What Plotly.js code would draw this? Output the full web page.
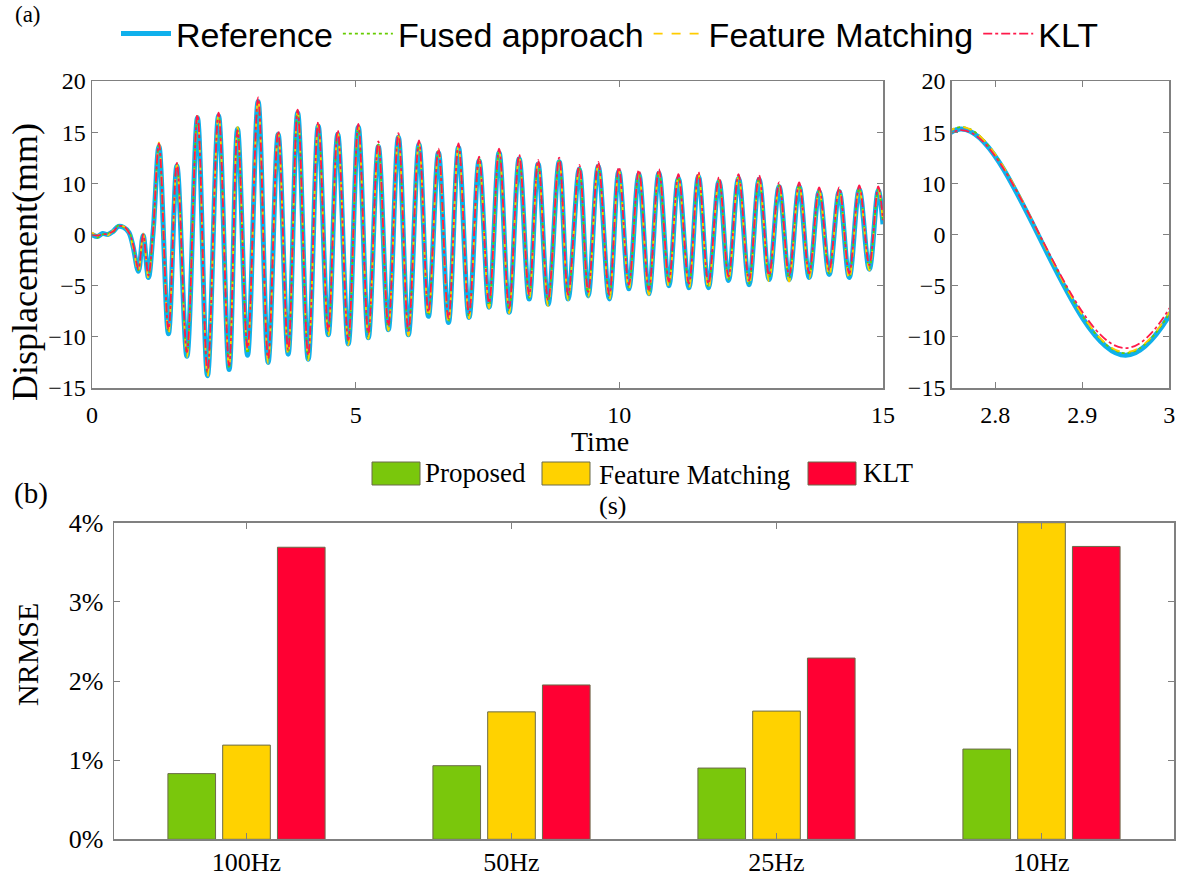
<!DOCTYPE html>
<html>
<head>
<meta charset="utf-8">
<script src="https://cdn.plot.ly/plotly-3.0.1.min.js"></script>
<style>html,body{margin:0;padding:0;background:#fff;}#chart{width:1182px;height:877px;}</style>
</head>
<body>
<div id="chart"></div>
<script>
// ---------- (a) displacement time history ----------
// time (s)
const timeS = [0, 0.1, 0.2, 0.3, 0.4, 0.5, 0.6, 0.7, 0.78, 0.88, 0.97, 1.07, 1.16, 1.27,
  1.45, 1.61, 1.80, 2.00, 2.19, 2.40, 2.60, 2.76, 2.95, 3.15,
  3.34, 3.53, 3.72, 3.90, 4.10, 4.29, 4.48, 4.66, 4.86, 5.05,
  5.24, 5.43, 5.62, 5.81, 6.00, 6.20, 6.38, 6.57, 6.76, 6.95,
  7.15, 7.34, 7.53, 7.72, 7.91, 8.10, 8.29, 8.46, 8.65, 8.86,
  9.03, 9.24, 9.41, 9.60, 9.81, 9.99, 10.18, 10.37, 10.56, 10.75,
  10.94, 11.12, 11.32, 11.50, 11.69, 11.89, 12.07, 12.26, 12.46, 12.65,
  12.84, 13.03, 13.22, 13.41, 13.60, 13.79, 13.98, 14.17, 14.36, 14.55,
  14.74, 14.91, 15.0];

// displacement, in the plotted axis units (the reference labels its ticks 20,15,10,0,-5,-10,-15)
const referenceDisp = [0.0, -0.2, 0.1, 0.0, 0.3, 0.8, 0.7, 0.2, -1.2, -3.6, -0.1, -4.2, 0.3, 8.6,
  -9.7, 6.7, -11.9, 11.4, -13.8, 11.6, -13.2, 10.3, -11.8, 13.0,
  -12.5, 9.8, -11.7, 11.9, -12.2, 10.6, -9.8, 9.8, -10.7, 10.5,
  -10.1, 8.6, -9.3, 9.5, -9.8, 8.8, -8.0, 8.0, -8.6, 8.5,
  -8.1, 7.2, -7.1, 8.0, -7.6, 7.4, -6.3, 6.9, -6.8, 7.1,
  -6.3, 6.4, -6.0, 6.7, -6.3, 6.2, -5.3, 5.9, -5.8, 6.0,
  -5.0, 5.5, -5.2, 5.7, -5.2, 5.2, -4.5, 5.5, -4.9, 5.4,
  -4.4, 4.7, -4.4, 4.7, -4.2, 4.2, -3.9, 4.2, -4.2, 4.4,
  -3.4, 4.3, 1.0];

const fusedDisp = [0.1, -0.3, 0.0, 0.1, 0.2, 0.9, 0.7, 0.3, -1.1, -3.5, 0.0, -4.1, 0.4, 8.8,
  -9.6, 6.9, -11.8, 11.5, -13.7, 11.7, -13.1, 10.5, -11.6, 13.1,
  -12.4, 10.0, -11.6, 12.1, -12.1, 10.7, -9.7, 9.9, -10.6, 10.6,
  -10.0, 8.8, -9.2, 9.6, -9.7, 8.9, -7.9, 8.2, -8.5, 8.6,
  -8.0, 7.4, -7.0, 8.1, -7.5, 7.5, -6.2, 7.0, -6.7, 7.2,
  -6.2, 6.5, -5.9, 6.8, -6.2, 6.3, -5.2, 6.0, -5.7, 6.1,
  -4.9, 5.6, -5.1, 5.8, -5.1, 5.3, -4.4, 5.6, -4.8, 5.5,
  -4.3, 4.8, -4.3, 4.8, -4.1, 4.3, -3.8, 4.3, -4.1, 4.5,
  -3.3, 4.4, 1.2];

const featureDisp = [0.2, -0.1, 0.2, -0.1, 0.4, 0.7, 0.8, 0.1, -1.3, -3.7, 0.1, -4.3, 0.2, 9.0,
  -9.8, 6.8, -12.0, 11.6, -13.9, 11.8, -13.0, 10.5, -11.5, 13.3,
  -12.6, 9.9, -11.8, 12.0, -12.3, 10.8, -9.9, 9.9, -10.8, 10.6,
  -10.2, 8.8, -9.4, 9.6, -9.9, 9.0, -8.1, 8.2, -8.7, 8.6,
  -8.2, 7.3, -7.2, 8.2, -7.7, 7.6, -6.4, 7.0, -7.0, 7.3,
  -6.4, 6.5, -6.1, 6.8, -6.4, 6.3, -5.4, 6.1, -5.9, 6.1,
  -5.1, 5.6, -5.3, 5.9, -5.4, 5.4, -4.6, 5.7, -5.0, 5.5,
  -4.6, 4.8, -4.6, 4.9, -4.3, 4.3, -4.1, 4.4, -4.4, 4.5,
  -3.5, 4.4, 1.1];

const kltDisp = [0.0, -0.1, 0.0, 0.1, 0.3, 0.8, 0.8, 0.2, -1.0, -3.4, 0.0, -4.0, 0.5, 8.9,
  -9.3, 7.0, -11.5, 11.7, -13.4, 11.9, -12.8, 10.2, -11.1, 13.4,
  -12.1, 10.1, -11.3, 12.2, -11.8, 11.0, -9.4, 10.2, -10.3, 10.8,
  -9.7, 9.1, -8.9, 9.9, -9.4, 9.2, -7.6, 8.4, -8.2, 8.9,
  -7.7, 7.6, -6.7, 8.4, -7.2, 7.8, -5.9, 7.3, -6.4, 7.5,
  -5.9, 6.8, -5.6, 7.1, -5.9, 6.6, -4.9, 6.3, -5.4, 6.4,
  -4.6, 5.9, -4.8, 6.1, -4.8, 5.6, -4.1, 5.9, -4.5, 5.8,
  -4.0, 5.1, -4.0, 5.1, -3.8, 4.6, -3.5, 4.6, -3.8, 4.8,
  -3.0, 4.7, 1.4];

const dispTickVals = [-15, -10, -5, 0, 5, 10, 15];
const dispTickText = ['\u221215', '\u221210', '\u22125', '0', '10', '15', '20'];
const timeTicks = [0, 5, 10, 15];
const zoomTicks = [2.8, 2.9, 3];
const zoomTickText = ['2.8', '2.9', '3'];

// ---------- (b) NRMSE bars ----------
const rates = ['100Hz', '50Hz', '25Hz', '10Hz'];
const nrmseProposed = [0.0083, 0.0093, 0.0090, 0.0114];
const nrmseFeature  = [0.0119, 0.0161, 0.0162, 0.0400];
const nrmseKLT      = [0.0369, 0.0195, 0.0229, 0.0370];
const nrmseTicks = [0, 0.01, 0.02, 0.03, 0.04];

// ---------- styling ----------
const W = 1182, H = 877;
const px = v => v / W;
const py = v => 1 - v / H;
const SERIF = 'Liberation Serif, Times New Roman, serif';
const SANS = 'Liberation Sans, Arial, sans-serif';
const AX = '#808080';

const lineSeries = [
  {name: 'Reference', y: referenceDisp, color: '#10b0ec', width: 5, dash: 'solid'},
  {name: 'Fused approach', y: fusedDisp, color: '#66cc00', width: 1.8, dash: 'dot'},
  {name: 'Feature Matching', y: featureDisp, color: '#ffcc00', width: 1.8, dash: 'dash'},
  {name: 'KLT', y: kltDisp, color: '#ff1a4b', width: 1.8, dash: 'dashdot'}
];

const traces = [];
lineSeries.forEach(s => {
  traces.push({x: timeS, y: s.y, name: s.name, type: 'scatter', mode: 'lines',
    line: {color: s.color, width: s.width, dash: s.dash, shape: 'spline'},
    xaxis: 'x', yaxis: 'y', showlegend: true, hoverinfo: 'skip'});
});
lineSeries.forEach(s => {
  traces.push({x: timeS, y: s.y, name: s.name, type: 'scatter', mode: 'lines',
    line: {color: s.color, width: s.width, dash: s.dash, shape: 'spline'},
    xaxis: 'x2', yaxis: 'y2', showlegend: false, hoverinfo: 'skip'});
});
const barSeries = [
  {name: 'Proposed', y: nrmseProposed, color: '#7ac70c'},
  {name: 'Feature Matching', y: nrmseFeature, color: '#ffd200'},
  {name: 'KLT', y: nrmseKLT, color: '#ff0033'}
];
barSeries.forEach(s => {
  traces.push({x: rates, y: s.y, name: s.name, type: 'bar',
    marker: {color: s.color, line: {color: '#6b6b4a', width: 1}},
    xaxis: 'x3', yaxis: 'y3', showlegend: false, hoverinfo: 'skip'});
});

const tickFont = {family: SERIF, size: 24, color: '#000'};
const barTickFont = {family: SERIF, size: 26, color: '#000'};
const boxAxis = {showline: true, linecolor: AX, linewidth: 1.5, mirror: 'ticks', ticks: 'inside',
  ticklen: 6, tickcolor: AX, showgrid: false, zeroline: false, tickfont: tickFont};

const note = (text, x, y, size, extra) => Object.assign({text: text, x: px(x), y: py(y),
  xref: 'paper', yref: 'paper', xanchor: 'center', yanchor: 'middle', showarrow: false,
  font: {family: SERIF, size: size, color: '#000'}}, extra || {});

const layout = {
  width: W, height: H, margin: {l: 0, r: 0, t: 0, b: 0},
  paper_bgcolor: '#fff', plot_bgcolor: '#fff', showlegend: true,
  barmode: 'group', bargap: 0.38, bargroupgap: 0.13,
  legend: {orientation: 'h', x: px(116), xanchor: 'left', y: py(5), yanchor: 'top',
    font: {family: SANS, size: 34, color: '#000'}, bgcolor: 'rgba(0,0,0,0)', itemwidth: 50,
    tracegroupgap: 0},
  xaxis: Object.assign({}, boxAxis, {domain: [px(92), px(883)], range: [0, 15], tickvals: timeTicks,
    ticklabelstandoff: 5, anchor: 'y'}),
  yaxis: Object.assign({}, boxAxis, {domain: [py(388), py(81)], range: [-15, 15], tickvals: dispTickVals,
    ticktext: dispTickText, anchor: 'x'}),
  xaxis2: Object.assign({}, boxAxis, {domain: [px(951.7), px(1169.3)], range: [2.75, 3], tickvals: zoomTicks,
    ticktext: zoomTickText, ticklabelstandoff: 5, anchor: 'y2'}),
  yaxis2: Object.assign({}, boxAxis, {domain: [py(388), py(81)], range: [-15, 15], tickvals: dispTickVals,
    ticktext: dispTickText, anchor: 'x2'}),
  xaxis3: Object.assign({}, boxAxis, {domain: [px(114), px(1174)], type: 'category', anchor: 'y3',
    tickfont: barTickFont, ticklabelstandoff: -1}),
  yaxis3: Object.assign({}, boxAxis, {domain: [py(839.3), py(522.7)], range: [0, 0.04],
    tickvals: nrmseTicks, tickformat: '.0%', anchor: 'x3', tickfont: barTickFont, ticklabelstandoff: 4}),
  annotations: [
    note('(a)', 28, 14, 23),
    note('(b)', 31, 493, 29),
    note('Displacement(mm)', 25, 262, 36, {textangle: -90}),
    note('Time', 600, 442, 28),
    note('NRMSE', 27, 655, 30, {textangle: -90}),
    note('(s)', 612, 505, 26),
    note('Proposed', 423, 473, 27, {xanchor: 'left'}),
    note('Feature Matching', 597, 475, 27, {xanchor: 'left'}),
    note('KLT', 861, 473, 27, {xanchor: 'left'})
  ],
  shapes: [
    {type: 'rect', xref: 'paper', yref: 'paper', x0: px(372), x1: px(420), y0: py(485), y1: py(462),
      fillcolor: barSeries[0].color, line: {color: '#6b6b4a', width: 1}},
    {type: 'rect', xref: 'paper', yref: 'paper', x0: px(542), x1: px(590), y0: py(485), y1: py(462),
      fillcolor: barSeries[1].color, line: {color: '#6b6b4a', width: 1}},
    {type: 'rect', xref: 'paper', yref: 'paper', x0: px(808), x1: px(856), y0: py(485), y1: py(462),
      fillcolor: barSeries[2].color, line: {color: '#6b6b4a', width: 1}}
  ]
};

Plotly.newPlot('chart', traces, layout, {staticPlot: true, displayModeBar: false});
</script>
</body>
</html>
